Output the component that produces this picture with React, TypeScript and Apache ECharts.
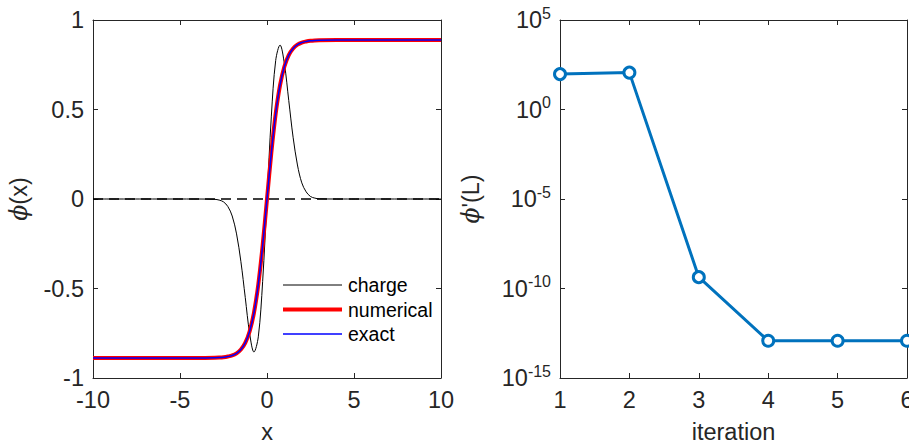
import React, { useEffect, useRef } from "react";
import * as echarts from "echarts";

const xs = [-10, -4, -3, -2.75, -2.5, -2.25, -2, -1.75, -1.5, -1.25, -1, -0.75, -0.5, -0.25, 0, 0.25, 0.5, 0.75, 1, 1.25, 1.5, 1.75, 2, 2.25, 2.5, 2.75, 3, 4, 10];
const numerical = [-0.888, -0.888, -0.887, -0.886, -0.884, -0.88, -0.874, -0.862, -0.841, -0.804, -0.74, -0.636, -0.477, -0.259, 0, 0.259, 0.477, 0.636, 0.74, 0.804, 0.841, 0.862, 0.874, 0.88, 0.884, 0.886, 0.887, 0.888, 0.888];
const exact = [-0.888, -0.888, -0.887, -0.886, -0.884, -0.88, -0.874, -0.862, -0.841, -0.804, -0.74, -0.636, -0.477, -0.259, 0, 0.259, 0.477, 0.636, 0.74, 0.804, 0.841, 0.862, 0.874, 0.88, 0.884, 0.886, 0.887, 0.888, 0.888];
const charge = [0, 0, -0.002, -0.006, -0.016, -0.042, -0.095, -0.195, -0.35, -0.55, -0.75, -0.855, -0.77, -0.46, 0, 0.463, 0.774, 0.86, 0.755, 0.55, 0.345, 0.19, 0.09, 0.04, 0.014, 0.005, 0.001, 0, 0];
const zeroLineX = [-10, 10];
const zeroLineY = [0, 0];

const iterations = [1, 2, 3, 4, 5, 6];
const residual = [95, 115, 4.3e-10, 1.2e-13, 1.2e-13, 1.2e-13];

const leftXTicks = [-10, -5, 0, 5, 10];
const leftYTicks = [-1, -0.5, 0, 0.5, 1];

const legendNames = ["charge", "numerical", "exact"];
const legendColors = ["#000000", "#ff0000", "#0000ff"];
const legendWidths = [1, 4, 1.5];

const FONT = "'Liberation Sans', Arial, Helvetica, sans-serif";
const AX = "#262626";

function pairs(a: number[], b: number[]) {
  return a.map((v, i) => [v, b[i]]);
}

export default function App() {
  const ref = useRef<HTMLDivElement>(null);
  useEffect(() => {
    if (!ref.current) return;
    const chart = echarts.init(ref.current, null, { renderer: "svg" });
    const tick = { show: true, inside: true, length: 5, lineStyle: { color: AX, width: 1 } };
    const line = { show: true, onZero: false, lineStyle: { color: AX, width: 1 } };
    const FS = 23.5;
    const lbl = { color: AX, fontSize: FS, fontFamily: FONT };
    const nameStyle = {
      color: AX, fontSize: FS, fontFamily: FONT,
      rich: {
        p: { color: AX, fontSize: FS, fontFamily: "'DejaVu Serif', serif", fontStyle: "italic" },
        t: { color: AX, fontSize: FS, fontFamily: FONT },
      },
    };
    const supLabel = (v: number) => {
      const e = Math.round(Math.log10(v));
      return `{b|10}{s|${e}}`;
    };
    const legendGraphics: any[] = [];
    legendNames.forEach((n, i) => {
      const y = 285 + i * 24.5;
      legendGraphics.push({
        type: "line", shape: { x1: 283, y1: y, x2: 342, y2: y },
        style: { stroke: legendColors[i], lineWidth: legendWidths[i] }, z: 10,
      });
      legendGraphics.push({
        type: "text", x: 348, y: y,
        style: { text: n, fill: "#000", fontSize: 19.5, fontFamily: FONT, verticalAlign: "middle", align: "left" }, z: 10,
      });
    });
    chart.setOption({
      animation: false,
      grid: [
        { left: 93, top: 20, width: 348, height: 358, outerBoundsMode: "none", containLabel: false },
        { left: 560, top: 20, width: 347, height: 358, outerBoundsMode: "none", containLabel: false },
      ],
      graphic: legendGraphics,
      xAxis: [
        {
          gridIndex: 0, type: "value", min: -10, max: 10, interval: 5,
          axisLine: line, axisTick: tick, splitLine: { show: false },
          axisLabel: { ...lbl, margin: 10, formatter: (v: number) => (leftXTicks.includes(v) ? String(v) : "") },
          name: "x", nameLocation: "middle", nameGap: 42, nameTextStyle: nameStyle,
        },
        {
          gridIndex: 0, type: "value", min: -10, max: 10, interval: 5, position: "top",
          axisLine: line, axisTick: tick, splitLine: { show: false }, axisLabel: { show: false },
        },
        {
          gridIndex: 1, type: "value", min: 1, max: 6, interval: 1,
          axisLine: line, axisTick: tick, splitLine: { show: false },
          axisLabel: { ...lbl, margin: 10 },
          name: "iteration", nameLocation: "middle", nameGap: 42, nameTextStyle: nameStyle,
        },
        {
          gridIndex: 1, type: "value", min: 1, max: 6, interval: 1, position: "top",
          axisLine: line, axisTick: tick, splitLine: { show: false }, axisLabel: { show: false },
        },
      ],
      yAxis: [
        {
          gridIndex: 0, type: "value", min: -1, max: 1, interval: 0.5,
          axisLine: line, axisTick: tick, splitLine: { show: false },
          axisLabel: { ...lbl, margin: 9, formatter: (v: number) => (leftYTicks.includes(v) ? String(v) : "") },
          name: "{p|ϕ}{t|(x)}", nameLocation: "middle", nameGap: 62, nameRotate: 90, nameTextStyle: nameStyle,
        },
        {
          gridIndex: 0, type: "value", min: -1, max: 1, interval: 0.5, position: "right",
          axisLine: line, axisTick: tick, splitLine: { show: false }, axisLabel: { show: false },
        },
        {
          gridIndex: 1, type: "log", logBase: 10, min: 1e-15, max: 1e5, interval: 5,
          axisLine: line, axisTick: tick, splitLine: { show: false }, minorTick: { show: false },
          axisLabel: {
            ...lbl, margin: 9, formatter: supLabel,
            rich: {
              b: { color: AX, fontSize: FS, fontFamily: FONT },
              s: { color: AX, fontSize: 16, fontFamily: FONT, padding: [0, 0, 14, 0] },
            },
          },
          name: "{p|ϕ}{t|'(L)}", nameLocation: "middle", nameGap: 77, nameRotate: 90, nameTextStyle: nameStyle,
        },
        {
          gridIndex: 1, type: "log", logBase: 10, min: 1e-15, max: 1e5, interval: 5, position: "right",
          axisLine: line, axisTick: tick, splitLine: { show: false }, axisLabel: { show: false },
        },
      ],
      series: [
        {
          name: "charge", type: "line", xAxisIndex: 0, yAxisIndex: 0,
          data: pairs(xs, charge), smooth: 0.35, symbol: "none",
          lineStyle: { color: "#000", width: 1 }, z: 2,
        },
        {
          name: "zero", type: "line", xAxisIndex: 0, yAxisIndex: 0,
          data: pairs(zeroLineX, zeroLineY), symbol: "none",
          lineStyle: { color: "#000", width: 1.3, type: [10, 6] }, z: 3,
        },
        {
          name: "numerical", type: "line", xAxisIndex: 0, yAxisIndex: 0,
          data: pairs(xs, numerical), smooth: 0.35, symbol: "none",
          lineStyle: { color: "#ff0000", width: 4 }, z: 4,
        },
        {
          name: "exact", type: "line", xAxisIndex: 0, yAxisIndex: 0,
          data: pairs(xs, exact), smooth: 0.35, symbol: "none",
          lineStyle: { color: "#0000ff", width: 1.5 }, z: 5,
        },
        {
          name: "residual", type: "line", xAxisIndex: 2, yAxisIndex: 2,
          data: pairs(iterations, residual), symbol: "circle", symbolSize: 11,
          lineStyle: { color: "#0072BD", width: 3 },
          itemStyle: { color: "#ffffff", borderColor: "#0072BD", borderWidth: 3 },
          z: 4,
        },
      ],
    });
    return () => chart.dispose();
  }, []);
  return <div ref={ref} style={{ position: "fixed", left: 0, top: 0, width: 909, height: 444, background: "#fff" }} />;
}
